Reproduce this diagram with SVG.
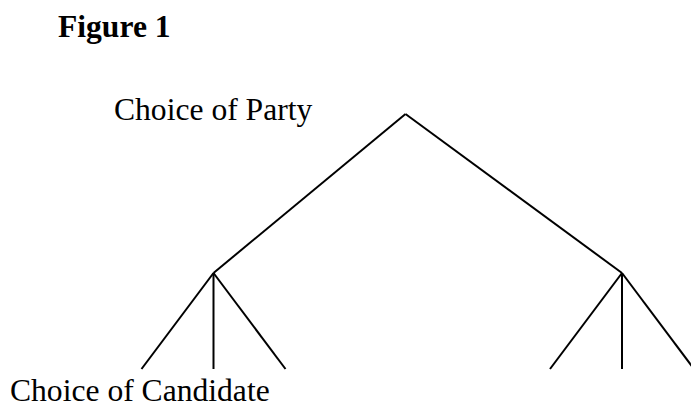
<svg xmlns="http://www.w3.org/2000/svg" width="691" height="407" viewBox="0 0 691 407">
<style>
.t{font-family:"Liberation Serif","Times New Roman",serif;font-size:31.6px;fill:#000}
.b{font-weight:bold}
.e{stroke:#000;stroke-width:2;fill:none;stroke-linecap:butt}
</style>
<rect width="691" height="407" fill="#fff"/>
<g id="title"><text class="t b" x="58" y="37">Figure 1</text></g>
<g id="party"><text class="t" x="114" y="120">Choice of Party</text></g>
<g id="candidate"><text class="t" x="10" y="401">Choice of Candidate</text></g>
<g id="connectors">
<line class="e" x1="405.5" y1="114" x2="213.5" y2="273"/>
<line class="e" x1="405.5" y1="114" x2="622" y2="273"/>
<line class="e" x1="213.5" y1="273" x2="141.5" y2="369"/>
<line class="e" x1="213.5" y1="273" x2="213.5" y2="369"/>
<line class="e" x1="213.5" y1="273" x2="285.5" y2="369"/>
<line class="e" x1="622" y1="273" x2="550" y2="369"/>
<line class="e" x1="622" y1="273" x2="622" y2="369"/>
<line class="e" x1="622" y1="273" x2="694" y2="369"/>
</g>
</svg>
